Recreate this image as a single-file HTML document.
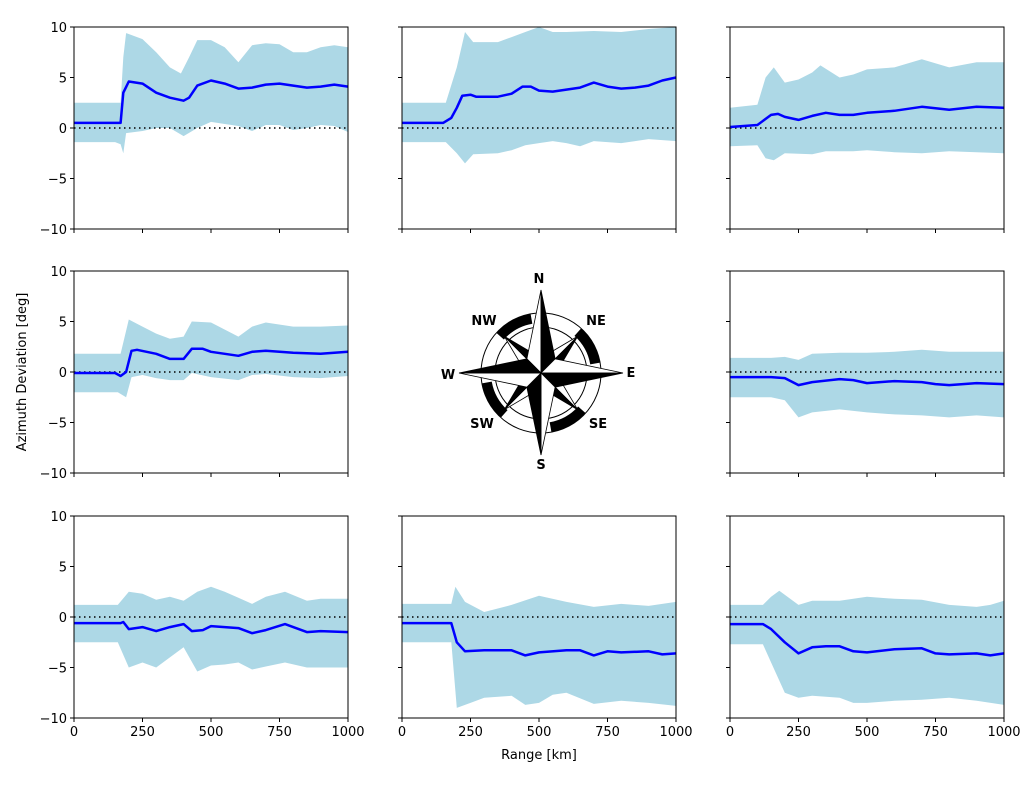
<!DOCTYPE html>
<html><head><meta charset="utf-8"><style>
body{margin:0;background:#fff}
svg text{font-family:"DejaVu Sans","Liberation Sans",sans-serif;font-size:13px;fill:#000}
</style></head><body>
<svg id="fig" width="1032" height="781" viewBox="0 0 1032 781" xmlns="http://www.w3.org/2000/svg">
<rect width="1032" height="781" fill="#fff"/>
<text transform="translate(26,372) rotate(-90)" text-anchor="middle">Azimuth Deviation [deg]</text>
<text x="539" y="759" text-anchor="middle">Range [km]</text>
<g>
<g id="rings"></g>
<circle cx="541" cy="373" r="46" fill="none" stroke="#000" stroke-width="1"/>
<circle cx="541" cy="373" r="60" fill="none" stroke="#000" stroke-width="1"/>
<g id="star"></g>
<text x="539" y="283" text-anchor="middle" font-weight="bold">N</text>
<text x="541" y="469" text-anchor="middle" font-weight="bold">S</text>
<text x="631" y="377" text-anchor="middle" font-weight="bold">E</text>
<text x="448" y="379" text-anchor="middle" font-weight="bold">W</text>
<text x="484" y="325" text-anchor="middle" font-weight="bold">NW</text>
<text x="596" y="325" text-anchor="middle" font-weight="bold">NE</text>
<text x="482" y="428" text-anchor="middle" font-weight="bold">SW</text>
<text x="598" y="428" text-anchor="middle" font-weight="bold">SE</text>
</g>
</svg>
<script>
const xTicks=[0,250,500,750,1000];
const yTicks=[-10,-5,0,5,10];
const p1Mean=[[0,0.5],[170,0.5],[180,3.5],[200,4.6],[250,4.4],[300,3.5],[350,3],[400,2.7],[420,3],[450,4.2],[500,4.7],[550,4.4],[600,3.9],[650,4],[700,4.3],[750,4.4],[800,4.2],[850,4],[900,4.1],[950,4.3],[1000,4.1]];
const p1Up=[[0,2.5],[170,2.5],[180,7],[190,9.4],[250,8.8],[300,7.5],[350,6],[390,5.4],[420,7],[450,8.7],[500,8.7],[550,8],[600,6.5],[650,8.2],[700,8.4],[750,8.3],[800,7.5],[850,7.5],[900,8],[950,8.2],[1000,8]];
const p1Lo=[[0,-1.4],[150,-1.4],[170,-1.6],[180,-2.5],[190,-0.5],[250,-0.3],[300,0],[350,0],[400,-0.8],[450,0],[500,0.6],[550,0.4],[600,0.2],[650,-0.3],[700,0.3],[750,0.3],[800,-0.2],[850,0],[900,0.3],[950,0.2],[1000,-0.4]];
const p2Mean=[[0,0.5],[150,0.5],[180,1],[200,2],[220,3.2],[250,3.3],[270,3.1],[350,3.1],[400,3.4],[440,4.1],[470,4.1],[500,3.7],[550,3.6],[600,3.8],[650,4],[700,4.5],[750,4.1],[800,3.9],[850,4],[900,4.2],[950,4.7],[1000,5]];
const p2Up=[[0,2.5],[160,2.5],[200,6],[230,9.5],[260,8.5],[350,8.5],[400,9],[450,9.5],[500,10],[550,9.5],[600,9.5],[700,9.6],[800,9.5],[900,9.8],[1000,10]];
const p2Lo=[[0,-1.4],[160,-1.4],[200,-2.5],[230,-3.5],[260,-2.6],[350,-2.5],[400,-2.2],[450,-1.7],[500,-1.5],[550,-1.3],[600,-1.5],[650,-1.8],[700,-1.3],[800,-1.5],[900,-1.1],[1000,-1.3]];
const p3Mean=[[0,0.1],[100,0.3],[150,1.3],[175,1.4],[200,1.1],[250,0.8],[300,1.2],[350,1.5],[400,1.3],[450,1.3],[500,1.5],[600,1.7],[700,2.1],[800,1.8],[900,2.1],[1000,2]];
const p3Up=[[0,2],[100,2.3],[130,5],[160,6],[200,4.5],[250,4.8],[300,5.5],[330,6.2],[400,5],[450,5.3],[500,5.8],[600,6],[700,6.8],[800,6],[900,6.5],[1000,6.5]];
const p3Lo=[[0,-1.8],[100,-1.7],[130,-3],[160,-3.2],[200,-2.5],[300,-2.6],[350,-2.3],[450,-2.3],[500,-2.2],[600,-2.4],[700,-2.5],[800,-2.3],[900,-2.4],[1000,-2.5]];
const p4Mean=[[0,-0.1],[150,-0.1],[170,-0.4],[190,0],[210,2.1],[230,2.2],[300,1.8],[350,1.3],[400,1.3],[430,2.3],[470,2.3],[500,2],[600,1.6],[650,2],[700,2.1],[800,1.9],[900,1.8],[1000,2]];
const p4Up=[[0,1.8],[170,1.8],[200,5.2],[250,4.5],[300,3.8],[350,3.3],[400,3.5],[430,5],[500,4.9],[600,3.5],[650,4.5],[700,4.9],[800,4.5],[900,4.5],[1000,4.6]];
const p4Lo=[[0,-2],[160,-2],[190,-2.5],[210,-0.5],[250,-0.3],[300,-0.6],[350,-0.8],[400,-0.8],[430,-0.1],[500,-0.5],[600,-0.8],[650,-0.3],[700,-0.2],[800,-0.5],[900,-0.6],[1000,-0.4]];
const p6Mean=[[0,-0.5],[150,-0.5],[200,-0.6],[250,-1.3],[300,-1.0],[400,-0.7],[450,-0.8],[500,-1.1],[600,-0.9],[700,-1.0],[750,-1.2],[800,-1.3],[900,-1.1],[1000,-1.2]];
const p6Up=[[0,1.4],[150,1.4],[200,1.5],[250,1.2],[300,1.8],[400,1.9],[500,1.9],[600,2],[700,2.2],[800,2],[900,2],[1000,2]];
const p6Lo=[[0,-2.5],[150,-2.5],[200,-2.8],[250,-4.5],[300,-4],[400,-3.7],[500,-4],[600,-4.2],[700,-4.3],[800,-4.5],[900,-4.3],[1000,-4.5]];
const p7Mean=[[0,-0.6],[170,-0.6],[180,-0.5],[200,-1.2],[250,-1.0],[300,-1.4],[350,-1.0],[400,-0.7],[430,-1.4],[470,-1.3],[500,-0.9],[600,-1.1],[650,-1.6],[700,-1.3],[770,-0.7],[800,-1],[850,-1.5],[900,-1.4],[1000,-1.5]];
const p7Up=[[0,1.2],[160,1.2],[200,2.5],[250,2.3],[300,1.7],[350,2],[400,1.6],[450,2.5],[500,3],[550,2.5],[600,1.9],[650,1.3],[700,2],[770,2.5],[850,1.6],[900,1.8],[1000,1.8]];
const p7Lo=[[0,-2.5],[160,-2.5],[200,-5],[250,-4.5],[300,-5],[350,-4],[400,-3],[450,-5.4],[500,-4.8],[550,-4.7],[600,-4.5],[650,-5.2],[700,-4.9],[770,-4.5],[850,-5],[900,-5],[1000,-5]];
const p8Mean=[[0,-0.6],[180,-0.6],[200,-2.5],[230,-3.4],[300,-3.3],[400,-3.3],[450,-3.8],[500,-3.5],[600,-3.3],[650,-3.3],[700,-3.8],[750,-3.4],[800,-3.5],[900,-3.4],[950,-3.7],[1000,-3.6]];
const p8Up=[[0,1.3],[180,1.3],[195,3],[230,1.5],[300,0.5],[400,1.2],[500,2.1],[600,1.5],[700,1],[800,1.3],[900,1.1],[1000,1.5]];
const p8Lo=[[0,-2.5],[180,-2.5],[200,-9],[250,-8.5],[300,-8],[400,-7.8],[450,-8.7],[500,-8.5],[550,-7.7],[600,-7.5],[700,-8.6],[800,-8.3],[900,-8.5],[1000,-8.8]];
const p9Mean=[[0,-0.7],[120,-0.7],[150,-1.2],[200,-2.5],[250,-3.6],[300,-3.0],[350,-2.9],[400,-2.9],[450,-3.4],[500,-3.5],[600,-3.2],[700,-3.1],[750,-3.6],[800,-3.7],[900,-3.6],[950,-3.8],[1000,-3.6]];
const p9Up=[[0,1.2],[120,1.2],[150,2],[180,2.6],[250,1.2],[300,1.6],[400,1.6],[500,2],[600,1.8],[700,1.7],[800,1.2],[900,1.0],[950,1.2],[1000,1.6]];
const p9Lo=[[0,-2.7],[120,-2.7],[150,-4.5],[200,-7.5],[250,-8],[300,-7.8],[400,-8],[450,-8.5],[500,-8.5],[600,-8.3],[700,-8.2],[800,-8],[900,-8.3],[1000,-8.7]];

const NS='http://www.w3.org/2000/svg';
const svg=document.getElementById('fig');
const cols=[74,402,730], rows=[27,271,516], W=274, H=202;
const panels=[
 {c:0,r:0,m:p1Mean,u:p1Up,l:p1Lo,n:'panel-nw'},
 {c:1,r:0,m:p2Mean,u:p2Up,l:p2Lo,n:'panel-n'},
 {c:2,r:0,m:p3Mean,u:p3Up,l:p3Lo,n:'panel-ne'},
 {c:0,r:1,m:p4Mean,u:p4Up,l:p4Lo,n:'panel-w'},
 {c:2,r:1,m:p6Mean,u:p6Up,l:p6Lo,n:'panel-e'},
 {c:0,r:2,m:p7Mean,u:p7Up,l:p7Lo,n:'panel-sw'},
 {c:1,r:2,m:p8Mean,u:p8Up,l:p8Lo,n:'panel-s'},
 {c:2,r:2,m:p9Mean,u:p9Up,l:p9Lo,n:'panel-se'}];
function mk(t,a,p){const e=document.createElementNS(NS,t);for(const k in a)e.setAttribute(k,a[k]);(p||svg).appendChild(e);return e;}
panels.forEach(p=>{
 const x0=cols[p.c], y0=rows[p.r];
 const sx=v=>x0+v/1000*W, sy=v=>y0+(10-v)/20*H;
 const g=mk('g',{});
 
 
 const pts=a=>a.map(d=>sx(d[0]).toFixed(1)+','+sy(d[1]).toFixed(1));
 const band=mk('polygon',{points:pts(p.u).concat(pts(p.l.slice().reverse())).join(' '),fill:'#add8e6'},g);
 
 
 const zl=mk('line',{x1:x0,x2:x0+W,y1:sy(0),y2:sy(0),stroke:'#000','stroke-width':1.5,'stroke-dasharray':'1.5 3.5'},g);
 
 
 const ml=mk('polyline',{points:pts(p.m).join(' '),fill:'none',stroke:'#0000ff','stroke-width':2.5,'stroke-linejoin':'round'},g);
 
 
 mk('rect',{x:x0,y:y0,width:W,height:H,fill:'none',stroke:'#000','stroke-width':1},g);
 xTicks.forEach(t=>{
  mk('line',{x1:sx(t),x2:sx(t),y1:y0+H,y2:y0+H+4,stroke:'#000'},g);
  if(p.r===2){const tx=mk('text',{x:sx(t),y:y0+H+18,'text-anchor':'middle'},g);tx.textContent=t;
   
   }
 });
 yTicks.forEach(t=>{
  mk('line',{x1:x0-4,x2:x0,y1:sy(t),y2:sy(t),stroke:'#000'},g);
  if(p.c===0){const tx=mk('text',{x:x0-7,y:sy(t)+5,'text-anchor':'end'},g);tx.textContent=(t<0?'\u2212'+(-t):t);
   
   }
 });
});
// compass
const cx=541, cy=373;
function pt(ang,r){const a=ang*Math.PI/180;return [cx+r*Math.sin(a),cy-r*Math.cos(a)];}
const rings=document.getElementById('rings');
[[-48,-10],[42,80],[132,170],[222,260]].forEach(([a0,a1])=>{
 const o0=pt(a0,60),o1=pt(a1,60),i1=pt(a1,50),i0=pt(a0,50);
 mk('path',{d:`M${o0} A60 60 0 0 1 ${o1} L${i1} A50 50 0 0 0 ${i0} Z`,fill:'#000'},rings);
});
const st=document.getElementById('star');
const pointsDef=[[45,52,15],[135,52,15],[225,52,15],[315,52,15],[0,83,20],[90,82,20],[180,82,20],[270,82,20]];
pointsDef.forEach(([ang,len,w])=>{
 const tip=pt(ang,len), a=pt(ang-45,w), b=pt(ang+45,w);
 mk('polygon',{points:[tip,a,[cx,cy]].map(q=>q.join(',')).join(' '),fill:'#fff',stroke:'#000','stroke-width':0.8},st);
 mk('polygon',{points:[tip,b,[cx,cy]].map(q=>q.join(',')).join(' '),fill:'#000',stroke:'#000','stroke-width':0.8},st);
});
</script>
</body></html>
